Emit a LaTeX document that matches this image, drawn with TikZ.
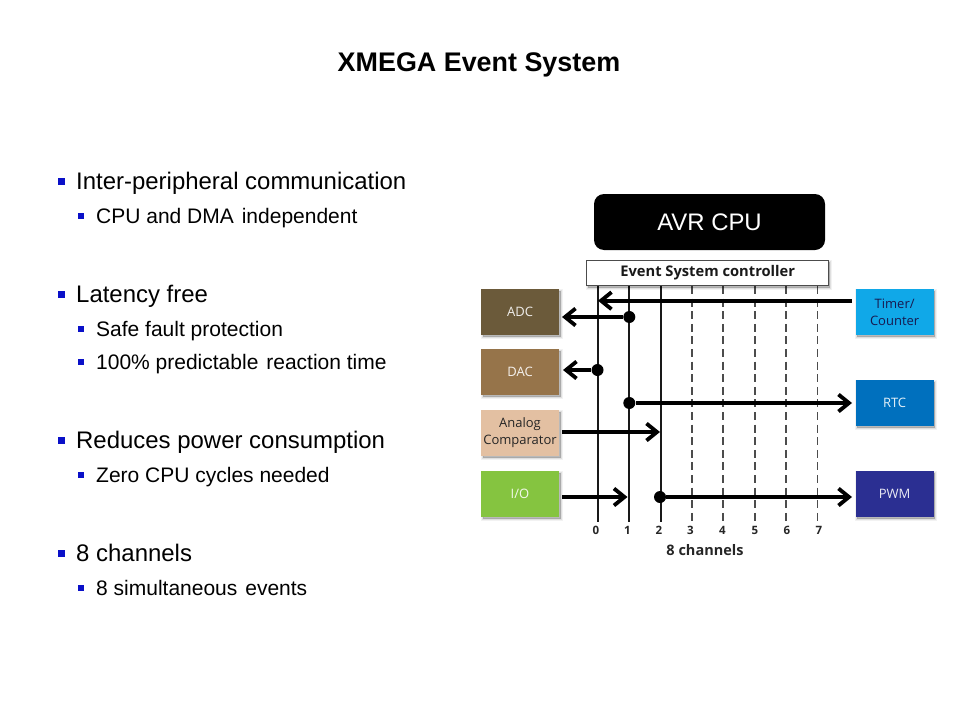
\documentclass[tikz,border=0pt]{standalone}
\usepackage{fontspec}
\setmainfont{Liberation Sans}
\newfontfamily\diagfont{Open Sans}
\usetikzlibrary{arrows.meta}
\definecolor{bulletblue}{HTML}{0A10C8}
\definecolor{adccol}{HTML}{6B5A3A}
\definecolor{daccol}{HTML}{96744A}
\definecolor{anacol}{HTML}{E3C0A2}
\definecolor{iocol}{HTML}{85C440}
\definecolor{timcol}{HTML}{10A8E8}
\definecolor{rtccol}{HTML}{0070BE}
\definecolor{pwmcol}{HTML}{2B2F92}
\tikzset{
  softshadow/.style={
    preaction={draw=black,fill=black,draw opacity=.05,fill opacity=.05,line width=4pt,transform canvas={xshift=1.5pt,yshift=-2pt}},
    preaction={draw=black,fill=black,draw opacity=.08,fill opacity=.08,line width=2pt,transform canvas={xshift=1.5pt,yshift=-2pt}},
    preaction={fill=black,fill opacity=.12,transform canvas={xshift=1.5pt,yshift=-2pt}}},
  peripheral/.style={softshadow,minimum width=78pt,minimum height=46pt,inner sep=0pt,align=center,
    font=\diagfont\fontsize{13}{17}\selectfont},
  lone/.style={anchor=base west,inner sep=0pt,font=\fontsize{23.95}{26}\selectfont},
  ltwo/.style={anchor=base west,inner sep=0pt,font=\fontsize{21}{24}\selectfont},
  bone/.style={fill=bulletblue,minimum size=7pt,inner sep=0pt},
  btwo/.style={fill=bulletblue,minimum size=6pt,inner sep=0pt},
  chsolid/.style={line width=2pt,black!90},
  chdash/.style={line width=1.6pt,black!70,dash pattern=on 8pt off 4.6pt},
  sigline/.style={line width=3.8pt,-{Straight Barb[length=10.5pt,width=17pt,line width=3.8pt]}},
  dotnode/.style={circle,fill=black,minimum size=12pt,inner sep=0pt},
  chnum/.style={inner sep=0pt,font=\diagfont\bfseries\fontsize{11.5}{13}\selectfont,text=black!85}
}
\begin{document}
\begin{tikzpicture}[x=1pt,y=-1pt]
\useasboundingbox (0,0) rectangle (960,720);
\fill[white] (0,0) rectangle (960,720);

\node[anchor=base,inner sep=0pt,font=\bfseries\fontsize{26.9}{29}\selectfont] (title) at (479,71) {XMEGA Event System};

% bullet text
\node[bone] (b1) at (61.6,181) {};
\node[lone] (t1) at (76,189) {Inter-peripheral communication};
\node[btwo] (b2) at (81.2,215.5) {};
\node[ltwo] (t2) at (96,223) {CPU and DMA\hspace{.1em} independent};
\node[bone] (b3) at (61.6,294) {};
\node[lone] (t3) at (76,302) {Latency free};
\node[btwo] (b4) at (81.2,328.5) {};
\node[ltwo] (t4) at (96,336) {Safe fault protection};
\node[btwo] (b5) at (81.2,361.5) {};
\node[ltwo] (t5) at (96,369) {100\% predictable\hspace{.1em} reaction time};
\node[bone] (b6) at (61.6,440) {};
\node[lone] (t6) at (76,448) {Reduces power consumption};
\node[btwo] (b7) at (81.2,474.5) {};
\node[ltwo] (t7) at (96,482) {Zero CPU cycles needed};
\node[bone] (b8) at (61.6,553) {};
\node[lone] (t8) at (76,561) {8 channels};
\node[btwo] (b9) at (81.2,587.5) {};
\node[ltwo] (t9) at (96,595) {8 simultaneous\hspace{.1em} events};

% channels
\foreach \n/\x in {0/597.5,1/629,2/660.5,3/691.8,4/723.2,5/754.7,6/786,7/817.5}{
  \coordinate (top\n) at (\x,286);
  \coordinate (bot\n) at (\x,522);
}
\foreach \n in {0,1,2} \draw[chsolid] (top\n) -- (bot\n);
\foreach \n in {3,...,7} \draw[chdash] (top\n) -- (bot\n);
\foreach \n/\x in {0/596,1/627.5,2/659,3/690.5,4/722.5,5/755,6/787,7/819}
  \node[chnum] (num\n) at (\x,530.5) {\n};
\node[inner sep=0pt,font=\diagfont\bfseries\fontsize{14.5}{16}\selectfont,text=black!85] (chlabel) at (705,550.5) {8 channels};

% CPU and controller
\node[fill=black,rounded corners=10pt,minimum width=231pt,minimum height=56pt,inner sep=0pt,
  text=white,font=\fontsize{23.9}{26}\selectfont] (cpu) at (709.5,222) {AVR CPU};
\node[draw=black!70,line width=1pt,fill=white,softshadow,minimum width=242pt,minimum height=25.5pt,inner sep=0pt,
  font=\diagfont\bfseries\fontsize{14.7}{16}\selectfont,text=black!90] (ctrl) at (707.7,273) {Event System controller};

% peripherals
\node[peripheral,fill=adccol,text=white!90!adccol] (adc) at (520,312) {ADC};
\node[peripheral,fill=daccol,text=white!90!daccol] (dac) at (520,372.3) {DAC};
\node[peripheral,fill=anacol,text=black!85] (ana) at (520,433) {Analog\\Comparator};
\node[peripheral,fill=iocol,text=white!90!iocol] (io) at (520,494) {I/O};
\node[peripheral,fill=timcol,text=black!45!pwmcol] (tim) at (894.6,312) {Timer/\\Counter};
\node[peripheral,fill=rtccol,text=white!90!rtccol] (rtc) at (894.6,403) {RTC};
\node[peripheral,fill=pwmcol,text=white!90!pwmcol] (pwm) at (894.6,494) {PWM};

% dots
\node[dotnode] (d1) at (629.3,317) {};
\node[dotnode] (d2) at (597.5,370) {};
\node[dotnode] (d3) at (629.3,403) {};
\node[dotnode] (d4) at (660,497) {};

% free ends of the signals
\coordinate (timS) at (852,300.7);
\coordinate (timE) at (598,300.7);
\coordinate (adcE) at (562,317);
\coordinate (dacE) at (563,370);
\coordinate (rtcE) at (852,403);
\coordinate (anaS) at (562,432);
\coordinate (anaE) at (660,432);
\coordinate (ioS) at (562,497);
\coordinate (ioE) at (627.5,497);
\coordinate (pwmE) at (852,497);

\draw[sigline] (timS) -- (timE);
\draw[sigline] (d1) -- (adcE);
\draw[sigline] (d2) -- (dacE);
\draw[sigline] (d3) -- (rtcE);
\draw[sigline] (anaS) -- (anaE);
\draw[sigline] (ioS) -- (ioE);
\draw[sigline] (d4) -- (pwmE);
\end{tikzpicture}
\end{document}
